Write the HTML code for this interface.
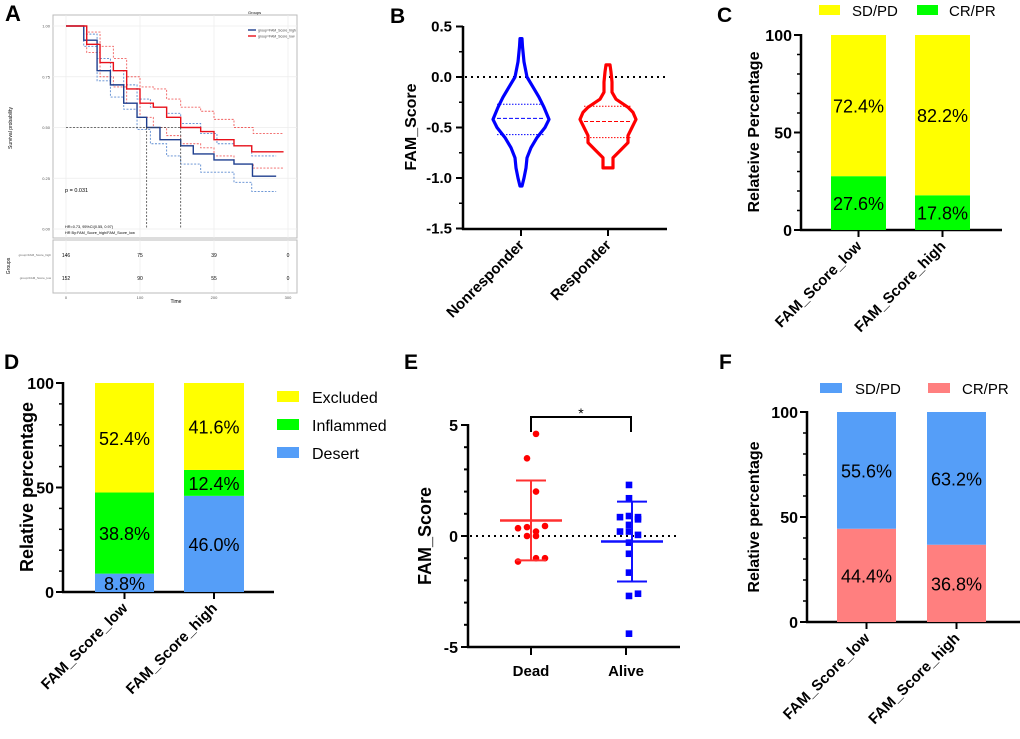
<!DOCTYPE html>
<html><head><meta charset="utf-8"><style>
html,body{margin:0;padding:0;background:#fff;}
svg{display:block;font-family:"Liberation Sans",Arial,sans-serif;}
</style></head><body>
<svg id="fig" width="1020" height="739" viewBox="0 0 1020 739"></svg>
<script>
// ---------- Panel A data (Kaplan-Meier) ----------
const kmTimeHigh=[0,8,24,42,60,78,96,109,127,155,172,200,227,251,252,284];
const kmSurvHigh=[1,1,0.93,0.78,0.71,0.62,0.55,0.5,0.44,0.41,0.37,0.34,0.32,0.32,0.26,0.26];
const kmUpHigh=[1,0.96,0.84,0.78,0.71,0.64,0.6,0.57,0.52,0.47,0.42,0.41,0.36,0.36];
const kmUpHighT=[0,24,42,60,78,96,114,136,155,182,204,227,251,284];
const kmLoHigh=[1,0.9,0.73,0.65,0.59,0.49,0.42,0.36,0.32,0.28,0.23,0.185,0.185];
const kmLoHighT=[5,24,42,60,78,96,114,136,155,182,227,251,284];
const kmTimeLow=[0,10,28,46,64,82,100,118,136,155,182,200,227,251,294];
const kmSurvLow=[1,1,0.91,0.82,0.78,0.69,0.62,0.6,0.55,0.5,0.48,0.44,0.41,0.38,0.38];
const kmUpLowT=[0,28,46,64,82,100,118,136,155,182,200,227,253,294];
const kmUpLow=[1,0.97,0.9,0.84,0.75,0.7,0.69,0.64,0.6,0.58,0.54,0.5,0.47,0.47];
const kmLoLowT=[0,28,46,64,82,100,118,136,155,182,200,227,253,294];
const kmLoLow=[1,0.87,0.75,0.7,0.62,0.55,0.5,0.46,0.42,0.4,0.36,0.32,0.3,0.3];
const medians=[109,155];
const riskTimes=[0,100,200,300];
const riskHigh=[146,75,39,0];
const riskLow=[152,90,55,0];
// ---------- Panel B data (violins) ----------
const violinCats=['Nonresponder','Responder'];
const vBlueVals=[0.38,0.3,0.15,0,-0.1,-0.2,-0.3,-0.42,-0.5,-0.6,-0.7,-0.8,-0.9,-1.0,-1.08];
const vBlueDens=[1,1.5,3,6,12,18,23,28,24,16,10,6,5,3,1];
const vRedVals=[0.12,0.05,-0.05,-0.15,-0.22,-0.3,-0.35,-0.42,-0.5,-0.58,-0.65,-0.72,-0.8,-0.88,-0.9];
const vRedDens=[2,3,4,4,8,20,25,28,24,20,20,13,5,5,5];
const vBlueQ=[-0.27,-0.41,-0.57];
const vRedQ=[-0.29,-0.44,-0.6];
// ---------- Panel C ----------
const catsC=['FAM_Score_low','FAM_Score_high'];
const crC=[27.6,17.8];
const sdC=[72.4,82.2];
// ---------- Panel D ----------
const catsD=['FAM_Score_low','FAM_Score_high'];
const desertD=[8.8,46.0];
const inflamD=[38.8,12.4];
const exclD=[52.4,41.6];
// ---------- Panel E ----------
const deadVals=[4.6,3.5,2.0,0.35,0.4,0.45,0.2,0,0,-1.15,-1.0,-1.0];
const deadJit=[5,-4,5,-13,-4,14,5,-4,5,-13,5,14];
const aliveVals=[2.3,1.7,0.85,0.9,0.85,0.75,0.5,0.2,0.2,0.05,-0.3,-0.8,-1.65,-2.7,-2.6,-4.4];
const aliveJit=[0,0,-9,0,9,9,0,-9,0,9,0,0,0,0,9,0];
const deadMean=0.7, deadSD=1.8, aliveMean=-0.25, aliveSD=1.8;
// ---------- Panel F ----------
const catsF=['FAM_Score_low','FAM_Score_high'];
const crF=[44.4,36.8];
const sdF=[55.6,63.2];

const svg=document.getElementById('fig');
const NS='http://www.w3.org/2000/svg';
function mk(tag,attrs,name,parent){
  const el=document.createElementNS(NS,tag);
  for(const k in attrs)el.setAttribute(k,attrs[k]);
  
  
  (parent||svg).appendChild(el);return el;
}
function txt(x,y,s,size,name,opt){
  opt=opt||{};
  const a={x:x,y:y,'font-size':size,fill:opt.fill||'#000'};
  if(opt.bold)a['font-weight']='bold';
  if(opt.anchor)a['text-anchor']=opt.anchor;
  if(opt.rot!==undefined)a.transform='rotate('+opt.rot+' '+x+' '+y+')';
  const t=mk('text',a,name);t.textContent=s;return t;
}
function ln(x1,y1,x2,y2,name,stroke,w,dash){
  const a={x1:x1,y1:y1,x2:x2,y2:y2,stroke:stroke||'#000','stroke-width':w||2};
  if(dash)a['stroke-dasharray']=dash;
  return mk('line',a,name);
}

// ===== Panel A =====
txt(5,21,'A',22,'panel-label-a',{bold:true});
mk('rect',{x:53,y:15,width:244,height:223,fill:'#fff',stroke:'#bbb','stroke-width':1},'km-plot-panel');
mk('rect',{x:53,y:240,width:244,height:53,fill:'#fff',stroke:'#bbb','stroke-width':1},'risk-table-panel');
const ax=t=>66+t*(222/300), ay=s=>229-s*203;
[0,0.25,0.5,0.75,1].forEach(s=>{ln(53,ay(s),297,ay(s),'km-gridline','#ececec',0.7);
  txt(50,ay(s)+1.5,s.toFixed(2),4,'km-y-tick',{anchor:'end',fill:'#555'});});
[0,100,200,300].forEach(t=>{ln(ax(t),15,ax(t),238,'km-gridline','#ececec',0.7);
  ln(ax(t),240,ax(t),293,'risk-gridline','#ececec',0.7);
  txt(ax(t),299,String(t),4,'km-x-tick',{anchor:'middle',fill:'#555'});});
txt(12,128,'Survival probability',5,'km-y-axis-title',{anchor:'middle',rot:-90});
txt(176,303,'Time',5,'km-x-axis-title',{anchor:'middle'});
txt(10,266,'Groups',5,'risk-y-axis-title',{anchor:'middle',rot:-90});
function stepPath(ts,ss){let d='M'+ax(ts[0])+','+ay(ss[0]);for(let i=1;i<ts.length;i++){d+=' H'+ax(ts[i])+' V'+ay(ss[i]);}return d;}
mk('path',{d:stepPath(kmUpHighT,kmUpHigh),fill:'none',stroke:'#5b8ad0','stroke-width':0.9,'stroke-dasharray':'2,1.5'},'km-high-ci-upper');
mk('path',{d:stepPath(kmLoHighT,kmLoHigh),fill:'none',stroke:'#5b8ad0','stroke-width':0.9,'stroke-dasharray':'2,1.5'},'km-high-ci-lower');
mk('path',{d:stepPath(kmUpLowT,kmUpLow),fill:'none',stroke:'#f06060','stroke-width':0.9,'stroke-dasharray':'2,1.5'},'km-low-ci-upper');
mk('path',{d:stepPath(kmLoLowT,kmLoLow),fill:'none',stroke:'#f06060','stroke-width':0.9,'stroke-dasharray':'2,1.5'},'km-low-ci-lower');
mk('path',{d:stepPath(kmTimeHigh,kmSurvHigh),fill:'none',stroke:'#1f3f8f','stroke-width':1.4},'km-curve-high');
mk('path',{d:stepPath(kmTimeLow,kmSurvLow),fill:'none',stroke:'#e8101a','stroke-width':1.4},'km-curve-low');
ln(ax(0),ay(0.5),ax(medians[1]),ay(0.5),'median-hline','#444',0.8,'2,1.5');
medians.forEach(m=>ln(ax(m),ay(0.5),ax(m),ay(0),'median-vline','#444',0.8,'2,1.5'));
txt(65,192,'p = 0.031',5.5,'p-value-text');
txt(65,228,'HR=0.73, 95%CI(0.55, 0.97)',3.8,'hr-text');
txt(65,234,'HR By:FAM_Score_high/FAM_Score_low',3.8,'hr-by-text');
txt(248,14,'Groups',4,'km-legend-title');
ln(248,30,256,30,'legend-high-swatch','#1f3f8f',1.4);
txt(258,31.5,'group=FAM_Score_high',3.5,'legend-high-label',{fill:'#444'});
ln(248,36,256,36,'legend-low-swatch','#e8101a',1.4);
txt(258,37.5,'group=FAM_Score_low',3.5,'legend-low-label',{fill:'#444'});
txt(51,256,'group=FAM_Score_high',3,'risk-row-high-label',{anchor:'end',fill:'#666'});
txt(51,279,'group=FAM_Score_low',3,'risk-row-low-label',{anchor:'end',fill:'#666'});
riskTimes.forEach((t,i)=>{txt(ax(t),257,String(riskHigh[i]),5,'risk-high-count',{anchor:'middle'});
  txt(ax(t),280,String(riskLow[i]),5,'risk-low-count',{anchor:'middle'});});

// ===== Panel B =====
txt(390,23,'B',21,'panel-label-b',{bold:true});
const by=v=>77-v*101, bx=[521,608];
ln(463,26,463,230,'b-y-axis','#000',2.5);
ln(462,229,667,229,'b-x-axis','#000',2.5);
[0.5,0,-0.5,-1,-1.5].forEach(v=>{ln(456,by(v),463,by(v),'b-y-tick','#000',2);
  txt(452,by(v)+5,v.toFixed(1),15,'b-y-tick-label',{anchor:'end',bold:true});});
[0.25,-0.25,-0.75,-1.25].forEach(v=>ln(459,by(v),463,by(v),'b-minor-tick','#000',1.5));
ln(465,by(0),667,by(0),'b-zero-line','#000',2,'2,4');
txt(416,127,'FAM_Score',16,'b-y-axis-title',{anchor:'middle',bold:true,rot:-90});
function violin(cx,vals,dens,color,name){
  let pts=[];for(let i=0;i<vals.length;i++)pts.push((cx+dens[i])+','+by(vals[i]));
  for(let i=vals.length-1;i>=0;i--)pts.push((cx-dens[i])+','+by(vals[i]));
  mk('polygon',{points:pts.join(' '),fill:'none',stroke:color,'stroke-width':3.2,'stroke-linejoin':'round'},name);
}
violin(bx[0],vBlueVals,vBlueDens,'#0000ff','violin-nonresponder');
violin(bx[1],vRedVals,vRedDens,'#ff0000','violin-responder');
vBlueQ.forEach((q,i)=>ln(bx[0]-24,by(q),bx[0]+24,by(q),'violin-nonresponder-quartile','#0000ff',1,i==1?'4,2':'1.5,1.5'));
vRedQ.forEach((q,i)=>ln(bx[1]-24,by(q),bx[1]+24,by(q),'violin-responder-quartile','#ff0000',1,i==1?'4,2':'1.5,1.5'));
violinCats.forEach((c,i)=>{ln(bx[i],229,bx[i],236,'b-x-tick','#000',2);
  txt(bx[i]+4,246,c,15,'b-x-tick-label',{anchor:'end',bold:true,rot:-45});});

// ===== stacked bar helper =====
function stacked(cfg){
  const yv=v=>cfg.y0-(cfg.y0-cfg.y100)*v/100;
  ln(cfg.ax,cfg.y100-1,cfg.ax,cfg.y0+1,cfg.p+'-y-axis','#000',2.5);
  ln(cfg.ax-1,cfg.y0,cfg.xend,cfg.y0,cfg.p+'-x-axis','#000',2.5);
  for(let v=0;v<=100;v+=10){const major=v%50==0;ln(cfg.ax-(major?7:4),yv(v),cfg.ax,yv(v),cfg.p+'-y-tick','#000',major?2:1.5);
    if(major)txt(cfg.ax-9,yv(v)+6,String(v),16,cfg.p+'-y-tick-label',{anchor:'end',bold:true});}
  cfg.cats.forEach((c,i)=>{
    let base=0;
    cfg.series.forEach((s,j)=>{const v=s[i];
      mk('rect',{x:cfg.bars[i][0],y:yv(base+v),width:cfg.bars[i][1]-cfg.bars[i][0],height:yv(base)-yv(base+v),fill:cfg.colors[j]},cfg.p+'-bar-'+cfg.snames[j]);
      const cx=(cfg.bars[i][0]+cfg.bars[i][1])/2;
      let ty=(yv(base)+yv(base+v))/2+7;
      if(v<12)ty=yv(base)-2;
      txt(cx,ty,v.toFixed(1)+'%',18,cfg.p+'-value-label',{anchor:'middle'});
      base+=v;});
    const tx=(cfg.bars[i][0]+cfg.bars[i][1])/2;
    ln(tx,cfg.y0,tx,cfg.y0+7,cfg.p+'-x-tick','#000',2);
    txt(tx+4,cfg.y0+17,c,15,cfg.p+'-x-tick-label',{anchor:'end',bold:true,rot:-45});
  });
}
// ===== Panel C =====
txt(717,22,'C',21,'panel-label-c',{bold:true});
stacked({p:'c',ax:801,y0:230,y100:35,xend:1002,cats:catsC,series:[crC,sdC],colors:['#00ff00','#ffff00'],snames:['cr-pr','sd-pd'],bars:[[831,886],[915,970]]});
mk('rect',{x:819,y:5,width:21,height:10,fill:'#ffff00'},'c-legend-sdpd-swatch');
txt(852,16,'SD/PD',15,'c-legend-sdpd-label');
mk('rect',{x:917,y:5,width:21,height:10,fill:'#00ff00'},'c-legend-crpr-swatch');
txt(949,16,'CR/PR',15,'c-legend-crpr-label');
txt(759,132,'Relateive Percentage',16,'c-y-axis-title',{anchor:'middle',bold:true,rot:-90});

// ===== Panel D =====
txt(4,369,'D',21,'panel-label-d',{bold:true});
stacked({p:'d',ax:63,y0:592,y100:383,xend:274,cats:catsD,series:[desertD,inflamD,exclD],colors:['#559ef8','#00ff00','#ffff00'],snames:['desert','inflamed','excluded'],bars:[[95,154],[184,244]]});
[['#ffff00','Excluded',397],['#00ff00','Inflammed',425],['#559ef8','Desert',453]].forEach((e,i)=>{
  mk('rect',{x:277,y:e[2]-6,width:22,height:11,fill:e[0]},'d-legend-swatch');
  txt(312,e[2]+6,e[1],16,'d-legend-label');});
txt(33,487,'Relative percentage',18,'d-y-axis-title',{anchor:'middle',bold:true,rot:-90});

// ===== Panel E =====
txt(404,369,'E',21,'panel-label-e',{bold:true});
const ey=v=>536-v*22.2, ex=[531,626];
ln(468,424,468,648,'e-y-axis','#000',2.5);
ln(467,647,680,647,'e-x-axis','#000',2.5);
for(let v=-5;v<=5;v++){const major=v%5==0;ln(major?461:464,ey(v),468,ey(v),'e-y-tick','#000',2);
  if(major)txt(458,ey(v)+6,String(v),16,'e-y-tick-label',{anchor:'end',bold:true});}
ln(470,ey(0),680,ey(0),'e-zero-line','#000',2,'2,4');
txt(431,536,'FAM_Score',18,'e-y-axis-title',{anchor:'middle',bold:true,rot:-90});
['Dead','Alive'].forEach((c,i)=>{ln(ex[i],647,ex[i],655,'e-x-tick','#000',2);
  txt(ex[i],676,c,15,'e-x-tick-label',{anchor:'middle',bold:true});});
mk('path',{d:'M531,432 V417 H631 V432',fill:'none',stroke:'#000','stroke-width':2},'significance-bracket');
txt(581,418,'*',14,'significance-star',{anchor:'middle'});
deadVals.forEach((v,i)=>mk('circle',{cx:ex[0]+deadJit[i],cy:ey(v),r:3.3,fill:'#ff0000'},'dead-point'));
aliveVals.forEach((v,i)=>mk('rect',{x:ex[1]+3+aliveJit[i]-3.3,y:ey(v)-3.3,width:6.6,height:6.6,fill:'#0000ff'},'alive-point'));
function errbar(cx,m,sd,col,nm){
  ln(cx-31,ey(m),cx+31,ey(m),nm+'-mean-line',col,2.5);
  ln(cx,ey(m+sd),cx,ey(m-sd),nm+'-error-bar',col,2);
  ln(cx-15,ey(m+sd),cx+15,ey(m+sd),nm+'-error-cap',col,2);
  ln(cx-15,ey(m-sd),cx+15,ey(m-sd),nm+'-error-cap',col,2);
}
errbar(ex[0],deadMean,deadSD,'#ff3030','dead');
errbar(ex[1]+6,aliveMean,aliveSD,'#1010ff','alive');

// ===== Panel F =====
txt(719,369,'F',21,'panel-label-f',{bold:true});
stacked({p:'f',ax:807,y0:622,y100:412,xend:1020,cats:catsF,series:[crF,sdF],colors:['#ff7f7f','#559ef8'],snames:['cr-pr','sd-pd'],bars:[[837,896],[927,986]]});
mk('rect',{x:820,y:383,width:22,height:10,fill:'#559ef8'},'f-legend-sdpd-swatch');
txt(855,394,'SD/PD',15,'f-legend-sdpd-label');
mk('rect',{x:928,y:383,width:22,height:10,fill:'#ff7f7f'},'f-legend-crpr-swatch');
txt(962,394,'CR/PR',15,'f-legend-crpr-label');
txt(759,517,'Relative percentage',16,'f-y-axis-title',{anchor:'middle',bold:true,rot:-90});
</script>
</body></html>
